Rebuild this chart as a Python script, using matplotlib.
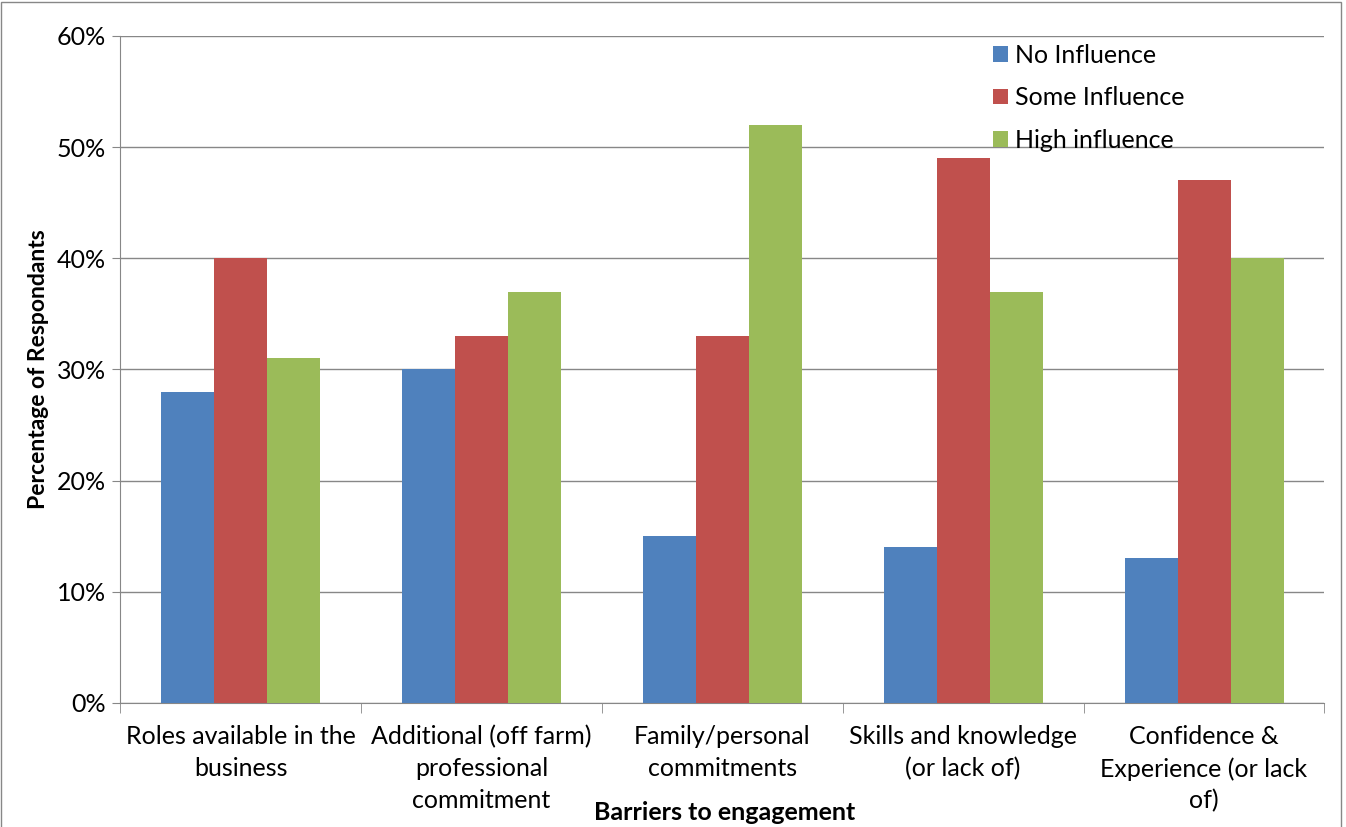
import numpy as np
import matplotlib.pyplot as plt
from matplotlib.ticker import PercentFormatter, FixedLocator

plt.rcParams['font.family'] = ['Lato', 'DejaVu Sans']

# Data
categories = ["Roles available in the\nbusiness",
              "Additional (off farm)\nprofessional\ncommitment",
              "Family/personal\ncommitments",
              "Skills and knowledge\n(or lack of)",
              "Confidence &\nExperience (or lack\nof)"]
no_influence = [28, 30, 15, 14, 13]
some_influence = [40, 33, 33, 49, 47]
high_influence = [31, 37, 52, 37, 40]

series_names = ["No Influence", "Some Influence", "High influence"]
colors = ["#4F81BD", "#C0504D", "#9BBB59"]

fig = plt.figure(figsize=(13.46, 8.27), dpi=100)
ax = fig.add_axes([0.0892, 0.150, 0.8948, 0.8065])

x = np.arange(len(categories))
w = 0.22
for i, (vals, name, c) in enumerate(zip([no_influence, some_influence, high_influence], series_names, colors)):
    ax.bar(x + (i - 1) * w, vals, width=w, color=c, label=name, zorder=3)

ax.set_xlim(-0.5, len(categories) - 0.5)
ax.set_ylim(0, 60)
ax.set_yticks(np.arange(0, 61, 10))
ax.yaxis.set_major_formatter(PercentFormatter(decimals=0))
ax.grid(axis='y', color='#878787', linewidth=1, zorder=0)

ax.set_xticks(x)
ax.set_xticklabels(categories, fontsize=18, linespacing=1.45)
ax.tick_params(axis='x', length=0, pad=16)
ax.xaxis.set_minor_locator(FixedLocator(np.arange(-0.5, len(categories), 1)))
ax.tick_params(axis='x', which='minor', length=7, color='#878787')
ax.tick_params(axis='y', labelsize=18, length=6, color='#878787', pad=4)

for s in ['top', 'right']:
    ax.spines[s].set_visible(False)
for s in ['left', 'bottom']:
    ax.spines[s].set_color('#878787')

ax.set_ylabel("Percentage of Respondants", fontsize=16.5, fontweight='bold', labelpad=6)
fig.text(0.538, 0.018, "Barriers to engagement", fontsize=18, fontweight='bold', ha='center', va='center')

ax.legend(loc='upper left', bbox_to_anchor=(0.706, 1.022), frameon=False, fontsize=18,
          handlelength=0.6, handleheight=0.6, handletextpad=0.3, labelspacing=0.78)

# chart border
fig.patches.append(plt.Rectangle((0.001, -0.01), 0.995, 1.008, transform=fig.transFigure,
                                 fill=False, edgecolor='#878787', linewidth=1))

fig.savefig("out.png", dpi=100)
